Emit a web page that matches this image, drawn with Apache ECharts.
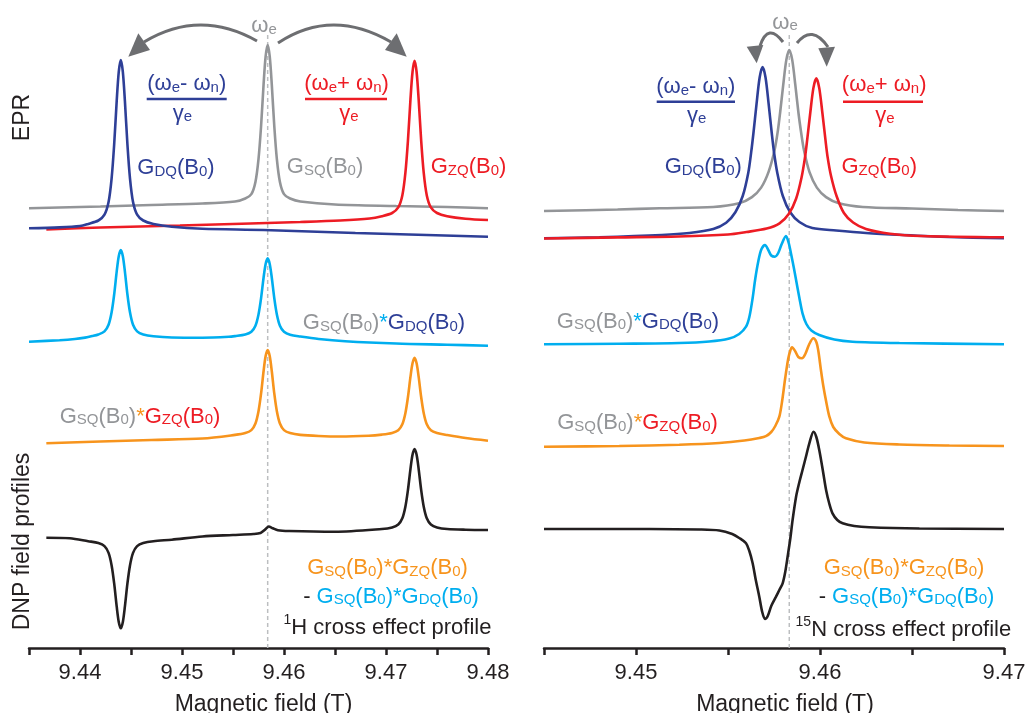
<!DOCTYPE html>
<html><head><meta charset="utf-8">
<script src="https://cdn.jsdelivr.net/npm/echarts@6/dist/echarts.min.js"></script>
<style>html,body{margin:0;padding:0;background:#fff;}#c{width:1025px;height:713px;}</style>
</head><body><div id="c"></div>
<script>
// ---------------- DATA (x: magnetic field in T, y: intensity, arbitrary units incl. stacking offset) -------------
// 1H panel
const hRange = [9.435, 9.48];
const hTickLabels = ['9.44', '9.45', '9.46', '9.47', '9.48'];
const hCenterSQ = 9.4584;
const hDQ = [[9.4350,419.7],[9.4380,420.6],[9.4400,422.0],[9.4408,424.1],[9.4418,427.5],[9.4424,433.4],[9.4428,446.0],[9.4431,469.7],[9.44335,503.5],[9.4436,547.4],[9.4438,576.2],[9.4440,588.0],[9.4442,576.2],[9.4444,547.4],[9.44465,503.5],[9.4449,469.7],[9.4452,446.0],[9.4456,433.4],[9.4462,427.5],[9.4472,424.1],[9.4490,421.3],[9.4520,419.2],[9.4580,418.0],[9.4670,415.0],[9.4740,413.0],[9.4800,411.3]];
const hSQ = [[9.4350,439.7],[9.4420,441.5],[9.4470,443.0],[9.4520,444.5],[9.4552,446.5],[9.4562,449.5],[9.4568,453.9],[9.4572,466.1],[9.4575,488.9],[9.45775,521.5],[9.4580,563.9],[9.4582,591.6],[9.4584,603.0],[9.4586,591.6],[9.4588,563.9],[9.45905,521.5],[9.4593,488.9],[9.4596,466.1],[9.4600,453.9],[9.4606,449.5],[9.4616,446.5],[9.4650,443.5],[9.4710,442.0],[9.4760,441.0],[9.4800,439.7]];
const hZQ = [[9.4367,418.5],[9.4420,420.5],[9.4498,422.5],[9.4567,424.5],[9.4616,426.0],[9.4655,427.5],[9.4684,429.5],[9.4696,431.8],[9.4706,435.0],[9.4712,440.6],[9.4716,452.6],[9.4719,475.1],[9.47215,507.2],[9.4724,548.8],[9.4726,576.0],[9.4728,587.3],[9.4730,576.0],[9.4732,548.8],[9.47345,507.2],[9.4737,475.1],[9.4740,452.6],[9.4744,440.6],[9.4750,435.0],[9.4760,431.8],[9.4778,429.3],[9.4800,428.0]];
const hSQxDQ = [[9.4350,306.3],[9.4380,307.8],[9.4395,309.0],[9.4405,310.4],[9.4412,311.9],[9.4418,313.5],[9.4424,316.6],[9.4428,323.2],[9.4431,335.7],[9.44335,353.5],[9.4436,376.6],[9.4438,391.8],[9.4440,398.0],[9.4442,391.8],[9.4444,376.6],[9.44465,353.5],[9.4449,335.7],[9.4452,323.2],[9.4456,316.6],[9.4462,313.5],[9.4472,311.7],[9.4490,310.5],[9.4520,310.3],[9.4546,311.2],[9.4552,311.9],[9.4562,313.5],[9.4568,316.3],[9.4572,322.3],[9.4575,333.6],[9.45775,349.6],[9.4580,370.5],[9.4582,384.1],[9.4584,389.7],[9.4586,384.1],[9.4588,370.5],[9.45905,349.6],[9.4593,333.6],[9.4596,322.3],[9.4600,316.3],[9.4606,313.3],[9.4616,311.5],[9.4634,309.0],[9.4660,306.8],[9.4710,304.5],[9.4760,303.3],[9.4800,302.3]];
const hSQxZQ = [[9.4367,204.7],[9.4420,206.5],[9.4470,208.0],[9.4520,209.5],[9.4552,213.1],[9.4562,214.9],[9.4568,217.9],[9.4572,224.5],[9.4575,236.8],[9.45775,254.3],[9.4580,277.0],[9.4582,291.9],[9.4584,298.0],[9.4586,291.9],[9.4588,277.0],[9.45905,254.3],[9.4593,236.8],[9.4596,224.5],[9.4600,217.9],[9.4606,214.9],[9.4616,213.1],[9.4634,212.0],[9.4655,211.5],[9.4683,212.3],[9.4696,213.4],[9.4706,215.0],[9.4712,217.7],[9.4716,223.7],[9.4719,234.8],[9.47215,250.7],[9.4724,271.3],[9.4726,284.7],[9.4728,290.3],[9.4730,284.7],[9.4732,271.3],[9.47345,250.7],[9.4737,234.8],[9.4740,223.7],[9.4744,217.7],[9.4750,215.0],[9.4760,213.0],[9.4778,210.0],[9.4800,207.3]];
const hCE = [[9.4367,110.3],[9.4390,109.8],[9.4408,106.8],[9.4418,105.0],[9.4424,101.9],[9.4428,95.1],[9.4431,82.6],[9.44335,64.6],[9.4436,41.3],[9.4438,26.0],[9.4440,19.7],[9.4442,26.0],[9.4444,41.3],[9.44465,64.6],[9.4449,82.6],[9.4452,95.1],[9.4456,101.9],[9.4462,105.0],[9.4472,106.8],[9.4490,108.3],[9.4520,111.5],[9.4550,113.0],[9.4570,114.0],[9.4577,115.0],[9.4581,118.0],[9.4585,121.5],[9.4589,119.8],[9.4594,117.8],[9.4605,117.0],[9.4650,116.3],[9.4696,119.0],[9.4706,120.6],[9.4712,123.5],[9.4716,129.7],[9.4719,141.3],[9.47215,157.8],[9.4724,179.2],[9.4726,193.2],[9.4728,199.0],[9.4730,193.2],[9.4732,179.2],[9.47345,157.8],[9.4737,141.3],[9.4740,129.7],[9.4744,123.5],[9.4750,120.6],[9.4760,119.0],[9.4778,118.3],[9.4800,118.0]];

// 15N panel
const nRange = [9.445, 9.47];
const nTickLabels = ['9.45', '9.46', '9.47'];
const nCenterSQ = 9.45833;
const nDQ = [[9.4450,409.7],[9.4480,410.8],[9.4514,413.0],[9.4529,415.0],[9.4542,419.0],[9.4549,425.2],[9.4554,435.7],[9.4558,452.0],[9.4561,475.1],[9.45626,495.8],[9.45638,514.5],[9.45655,543.8],[9.45672,570.5],[9.45688,581.0],[9.45704,570.5],[9.45721,543.8],[9.45738,514.5],[9.4575,495.8],[9.45768,475.1],[9.45798,452.0],[9.45838,435.7],[9.45888,426.0],[9.45958,420.0],[9.46088,417.5],[9.4625,415.0],[9.4645,413.0],[9.4670,411.0],[9.4700,409.7]];
const nSQ = [[9.4450,437.0],[9.4490,438.5],[9.4513,439.7],[9.4542,441.0],[9.4556,444.7],[9.4563,450.9],[9.4568,460.4],[9.4572,475.9],[9.45753,497.7],[9.45771,517.3],[9.45783,535.0],[9.4580,562.8],[9.45817,588.1],[9.45833,598.0],[9.45849,588.1],[9.45866,562.8],[9.45883,535.0],[9.45896,517.3],[9.45913,497.7],[9.45943,475.9],[9.45983,460.4],[9.46033,450.9],[9.46103,444.7],[9.46233,441.0],[9.4650,439.5],[9.4675,438.0],[9.4700,437.0]];
const nZQ = [[9.4450,409.5],[9.4490,410.6],[9.4523,411.5],[9.4550,413.5],[9.4560,416.0],[9.4571,419.5],[9.4578,424.7],[9.4583,434.0],[9.4587,449.3],[9.4590,470.8],[9.45918,490.1],[9.4593,507.6],[9.45947,535.0],[9.45964,559.9],[9.4598,569.7],[9.45996,559.9],[9.46013,535.0],[9.4603,507.6],[9.46042,490.1],[9.4606,472.0],[9.4609,452.0],[9.4613,435.0],[9.4618,425.5],[9.4625,419.0],[9.4638,414.3],[9.4655,412.0],[9.4700,410.7]];
const nSQxDQ = [[9.4450,303.7],[9.44909,304.3],[9.45235,305.0],[9.45398,306.5],[9.45507,309.5],[9.45561,314.0],[9.45598,321.3],[9.45616,331.0],[9.45634,350.0],[9.45648,369.0],[9.45665,387.0],[9.45681,398.5],[9.45701,403.0],[9.45719,398.0],[9.45735,392.5],[9.45755,391.3],[9.45773,395.0],[9.45792,404.0],[9.45815,412.0],[9.4583,405.0],[9.45844,393.0],[9.45858,380.0],[9.4587,368.0],[9.45888,350.0],[9.45905,334.7],[9.45926,324.0],[9.45953,317.5],[9.45996,313.0],[9.46078,308.5],[9.46177,306.3],[9.46431,305.0],[9.4700,303.7]];
const nSQxZQ = [[9.4450,201.3],[9.44909,202.0],[9.45235,203.3],[9.45453,205.0],[9.45589,207.5],[9.4567,210.0],[9.45706,211.8],[9.45735,216.0],[9.45757,222.0],[9.45779,231.3],[9.45795,248.0],[9.45811,270.0],[9.45827,289.0],[9.45838,297.0],[9.45848,300.7],[9.45866,296.5],[9.45882,291.0],[9.45902,289.7],[9.4592,294.0],[9.45942,304.0],[9.45964,309.7],[9.4598,306.0],[9.45991,297.0],[9.46005,278.0],[9.46018,262.0],[9.46034,246.0],[9.46051,231.3],[9.46072,221.0],[9.46105,214.0],[9.46141,209.7],[9.46241,205.5],[9.46431,203.5],[9.46703,202.5],[9.4700,202.0]];
const nCE = [[9.4450,119.0],[9.45072,119.0],[9.45344,118.5],[9.45453,117.5],[9.45523,114.0],[9.45561,110.0],[9.45598,104.7],[9.45616,97.0],[9.45634,84.7],[9.45651,68.0],[9.4567,51.3],[9.45686,36.0],[9.45701,29.0],[9.45716,32.0],[9.45735,42.0],[9.45761,51.3],[9.45779,58.0],[9.45797,64.7],[9.45811,76.0],[9.45824,91.3],[9.45839,110.0],[9.45851,128.0],[9.4587,151.3],[9.45888,166.0],[9.45905,178.0],[9.45926,193.0],[9.45942,204.7],[9.45965,216.3],[9.4598,211.0],[9.45996,198.0],[9.46015,178.0],[9.46033,158.0],[9.46051,144.0],[9.46068,134.7],[9.46094,128.0],[9.46123,124.7],[9.46186,122.0],[9.46268,120.7],[9.4654,119.5],[9.4700,119.0]];

const yRange = [0, 648];
const tickStep = 0.005;

// ---------------- STYLE ----------------
const F = "'Liberation Sans', Arial, Helvetica, sans-serif";
const C = {gr:'#939598', bl:'#2e3f97', rd:'#ed1c24', cy:'#00aeef', or:'#f7941d', k:'#231f20', ar:'#6d6e71', dash:'#bcbec0'};
const DASH_TOP = 613;

const R = {};
for (const [k, c] of Object.entries(C)) {
  R[k] = {fill:c, fontFamily:F, fontSize:22, lineHeight:26, verticalAlign:'bottom'};
  R[k + 's'] = {fill:c, fontFamily:F, fontSize:15, lineHeight:5, verticalAlign:'bottom'};
  R[k + 'p'] = {fill:c, fontFamily:F, fontSize:14, lineHeight:16, verticalAlign:'top'};
}
const G = (c, sub) => `{${c}|G}{${c}s|${sub}}{${c}|(B}{${c}s|0}{${c}|)}`;

function txt(x, y, text, extra) {
  return Object.assign({type:'text', x, y, z:100, silent:true,
    style:{text, rich:R, align:'center', verticalAlign:'top', font:`22px ${F}`, fill:C.k}}, extra || {});
}
function bar(x1, x2, y, col) {
  return {type:'line', z:100, silent:true, shape:{x1, y1:y, x2, y2:y}, style:{stroke:col, lineWidth:2.5}};
}
function arc(x1, y1, cx, cy, x2, y2) {
  return {type:'bezierCurve', z:100, silent:true, shape:{x1, y1, x2, y2, cpx1:cx, cpy1:cy}, style:{stroke:C.ar, lineWidth:3, fill:null}};
}
function head(pts) {
  return {type:'polygon', z:100, silent:true, shape:{points:pts}, style:{fill:C.ar}};
}

function fmt(labels) {
  return v => {
    const k = Math.round(v * 1000);
    if (k % 10 !== 0) return '';
    const s = (k / 1000).toFixed(2);
    return labels.includes(s) ? s : '';
  };
}
function xAx(idx, range, labels, pad) {
  return {
    type:'value', gridIndex:idx, min:range[0], max:range[1], interval:tickStep,
    axisLine:{show:true, lineStyle:{color:C.k, width:2.5}},
    axisTick:{show:true, length:7, lineStyle:{color:C.k, width:2.5}},
    splitLine:{show:false},
    axisLabel:{formatter:fmt(labels), fontSize:22, fontFamily:F, color:C.k, margin:14, showMinLabel:true, showMaxLabel:true},
    name:'Magnetic field (T)', nameLocation:'middle', nameGap:45,
    nameTextStyle:{fontSize:23, fontFamily:F, color:C.k, padding:[0,0,0,pad]}
  };
}
function yAx(idx) { return {type:'value', gridIndex:idx, min:yRange[0], max:yRange[1], show:false}; }
function ln(idx, data, col, z) {
  return {type:'line', xAxisIndex:idx, yAxisIndex:idx, data, showSymbol:false, smooth:0.3, silent:true, z:z || 2,
    lineStyle:{color:col, width:2.6}, emphasis:{disabled:true}};
}
function dash(idx, c) {
  return {type:'line', xAxisIndex:idx, yAxisIndex:idx, data:[[c, yRange[0]], [c, DASH_TOP]], showSymbol:false, silent:true, z:1,
    lineStyle:{color:C.dash, width:1.5, type:[4, 3]}};
}

const option = {
  animation:false,
  backgroundColor:'#fff',
  grid:[
    {left:29, width:459, top:0, height:648, containLabel:false, outerBoundsMode:'none'},
    {left:544, width:460, top:0, height:648, containLabel:false, outerBoundsMode:'none'}
  ],
  xAxis:[xAx(0, hRange, hTickLabels, 10), xAx(1, nRange, nTickLabels, 22)],
  yAxis:[yAx(0), yAx(1)],
  series:[
    dash(0, hCenterSQ), dash(1, nCenterSQ),
    ln(0, hSQ, C.gr, 2), ln(0, hZQ, C.rd, 3), ln(0, hDQ, C.bl, 4),
    ln(0, hSQxDQ, C.cy, 3), ln(0, hSQxZQ, C.or, 3), ln(0, hCE, C.k, 3),
    ln(1, nSQ, C.gr, 2), ln(1, nDQ, C.bl, 3), ln(1, nZQ, C.rd, 4),
    ln(1, nSQxDQ, C.cy, 3), ln(1, nSQxZQ, C.or, 3), ln(1, nCE, C.k, 3)
  ],
  graphic:[
    // side titles
    {type:'text', x:22.5, y:117.5, rotation:Math.PI/2, z:100, silent:true, style:{text:'EPR', font:`23px ${F}`, fill:C.k, align:'center', verticalAlign:'middle'}},
    {type:'text', x:22.5, y:541.5, rotation:Math.PI/2, z:100, silent:true, style:{text:'DNP field profiles', font:`23px ${F}`, fill:C.k, align:'center', verticalAlign:'middle'}},
    // 1H EPR annotations
    txt(264, 11, '{gr|ω}{grs|e}'),
    arc(257, 41, 199.5, 8.5, 144, 42), head([[128.3, 56.7], [138.3, 33.3], [150, 50]]),
    arc(278, 43, 331.5, 7.5, 391, 42), head([[406.7, 56.7], [396.7, 33.3], [385, 50]]),
    txt(186.7, 69, '{bl|(ω}{bls|e}{bl|- ω}{bls|n}{bl|)}'), bar(146.7, 226.7, 99, C.bl), txt(182.5, 98.7, '{bl|γ}{bls|e}'),
    txt(346.5, 69, '{rd|(ω}{rds|e}{rd|+ ω}{rds|n}{rd|)}'), bar(305, 387, 99, C.rd), txt(349, 98.7, '{rd|γ}{rds|e}'),
    txt(176, 153, G('bl', 'DQ')), txt(325, 152, G('gr', 'SQ')), txt(468.5, 152, G('rd', 'ZQ')),
    txt(384, 308, G('gr', 'SQ') + '{cy|*}' + G('bl', 'DQ')),
    txt(140, 401.7, G('gr', 'SQ') + '{or|*}' + G('rd', 'ZQ')),
    txt(387.5, 553.3, G('or', 'SQ') + '{or|*}' + G('or', 'ZQ')),
    txt(391, 581.7, '{k|- }' + G('cy', 'SQ') + '{cy|*}' + G('cy', 'DQ')),
    txt(387.5, 613.3, '{kp|1}{k|H cross effect profile}'),
    // 15N EPR annotations
    txt(785, 7.6, '{gr|ω}{grs|e}'),
    arc(783, 42, 768, 22, 760, 46), head([[756.7, 63.3], [746.7, 46.7], [763.3, 45]]),
    arc(797, 43, 812, 24, 828, 47), head([[826.7, 66.7], [818.3, 48.3], [835, 46.7]]),
    txt(695.8, 72, '{bl|(ω}{bls|e}{bl|- ω}{bls|n}{bl|)}'), bar(656.7, 735, 101.7, C.bl), txt(696.7, 100.7, '{bl|γ}{bls|e}'),
    txt(884.2, 70, '{rd|(ω}{rds|e}{rd|+ ω}{rds|n}{rd|)}'), bar(843, 923, 101.7, C.rd), txt(885, 100.7, '{rd|γ}{rds|e}'),
    txt(703.3, 152, G('bl', 'DQ')), txt(879.2, 152, G('rd', 'ZQ')),
    txt(638, 306.7, G('gr', 'SQ') + '{cy|*}' + G('bl', 'DQ')),
    txt(637.5, 408.3, G('gr', 'SQ') + '{or|*}' + G('rd', 'ZQ')),
    txt(904, 553.3, G('or', 'SQ') + '{or|*}' + G('or', 'ZQ')),
    txt(906.5, 581.7, '{k|- }' + G('cy', 'SQ') + '{cy|*}' + G('cy', 'DQ')),
    txt(903.4, 615, '{kp|15}{k|N cross effect profile}')
  ]
};
const chart = echarts.init(document.getElementById('c'), null, {renderer:'canvas'});
chart.setOption(option);
</script></body></html>
